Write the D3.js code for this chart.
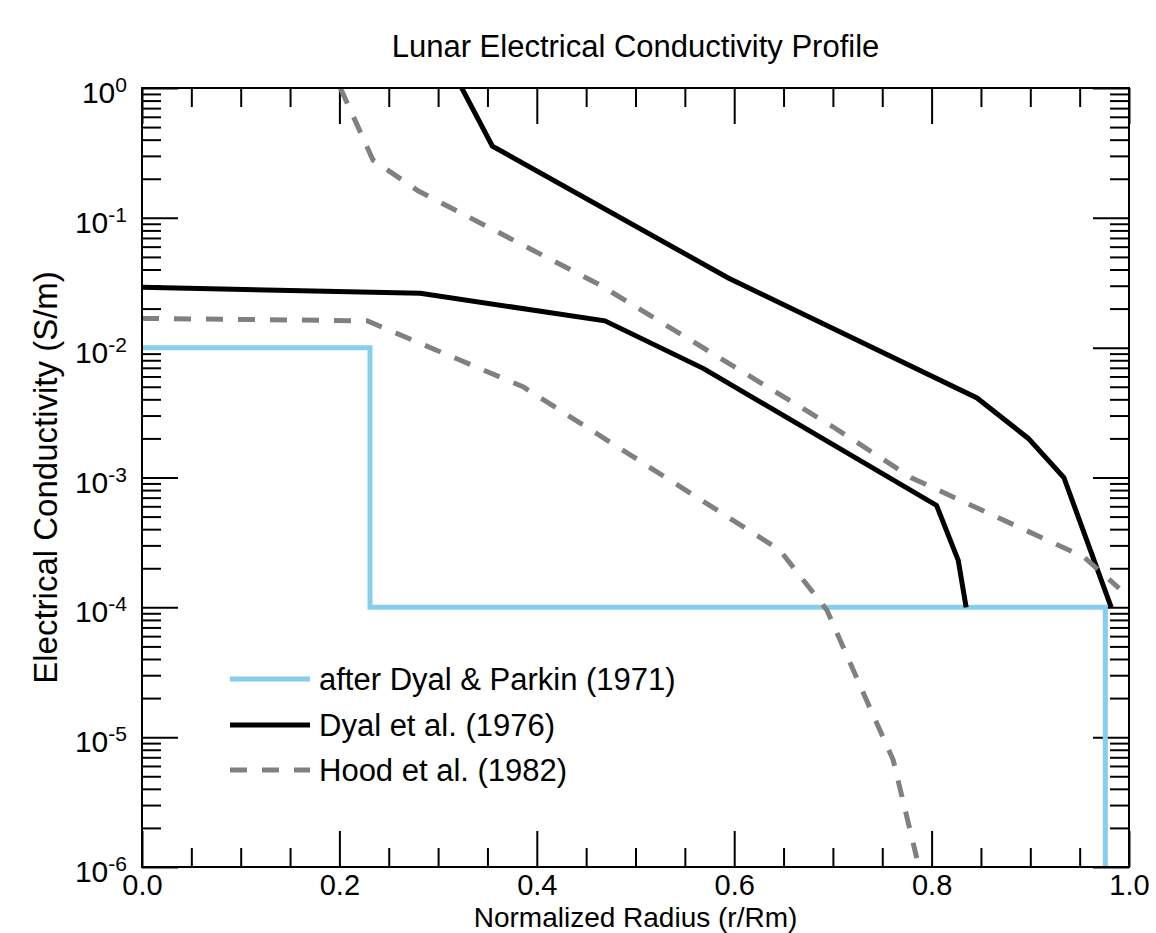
<!DOCTYPE html>
<html>
<head>
<meta charset="utf-8">
<script src="https://cdn.jsdelivr.net/npm/d3@7"></script>
<style>
  body { margin: 0; background: #fff; }
  svg { display: block; font-family: "Liberation Sans", Arial, Helvetica, sans-serif; }
</style>
</head>
<body>
<div id="chart"></div>
<script>
// after Dyal & Parkin (1971) - step profile
const dyalParkinR = [0.0, 0.231, 0.231, 0.976, 0.976];
const dyalParkinSigma = [1e-2, 1e-2, 1e-4, 1e-4, 1e-6];

// Dyal et al. (1976) - two bounding curves
const dyalUpperR = [0.324, 0.355, 0.594, 0.846, 0.898, 0.934, 0.982];
const dyalUpperSigma = [1.0, 0.357, 0.0344, 0.0041, 0.002, 0.001, 1.0e-4];
const dyalLowerR = [0.0, 0.282, 0.469, 0.569, 0.805, 0.827, 0.835];
const dyalLowerSigma = [0.0292, 0.0262, 0.0161, 0.0069, 6.1e-4, 2.3e-4, 1.0e-4];

// Hood et al. (1982) - two bounding curves
const hoodUpperR = [0.201, 0.234, 0.28, 0.35, 0.464, 0.70, 0.78, 0.954, 0.99];
const hoodUpperSigma = [1.0, 0.279, 0.161, 0.0855, 0.0304, 0.00246, 9.9e-4, 2.45e-4, 1.4e-4];
const hoodLowerR = [0.0, 0.228, 0.386, 0.646, 0.694, 0.734, 0.761, 0.785];
const hoodLowerSigma = [0.0168, 0.0161, 0.0050, 2.77e-4, 9.5e-5, 1.93e-5, 6.7e-6, 1.17e-6];

const xMajorTicks = [0, 0.2, 0.4, 0.6, 0.8, 1.0];
const yExponents = [0, -1, -2, -3, -4, -5, -6];
const legendLabels = ["after Dyal & Parkin (1971)", "Dyal et al. (1976)", "Hood et al. (1982)"];

const width = 1156, height = 933;
const margin = {left: 142, right: 27, top: 88, bottom: 66};
const plotW = width - margin.left - margin.right;
const plotH = height - margin.top - margin.bottom;

const svg = d3.select("#chart").append("svg").attr("width", width).attr("height", height);

const x = d3.scaleLinear().domain([0, 1]).range([margin.left, margin.left + plotW]);
const y = d3.scaleLog().domain([1e-6, 1]).range([margin.top + plotH, margin.top]);

const xMinor = d3.range(0, 1.0001, 0.05).filter(v => Math.abs(v * 5 - Math.round(v * 5)) > 1e-6);
const yMinor = [];
yExponents.slice(1).forEach(e => { for (let k = 2; k <= 9; k++) yMinor.push(k * Math.pow(10, e)); });

const majorLen = 36, minorLen = 19;

function tickStyle(g) {
    g.select(".domain").remove();
    g.selectAll(".tick line").attr("stroke", "#000").attr("stroke-width", 2);
}

// bottom axis
svg.append("g").attr("transform", `translate(0,${margin.top + plotH})`)
    .call(d3.axisBottom(x).tickValues(xMinor).tickSize(-minorLen).tickFormat(""))
    .call(tickStyle);
svg.append("g").attr("transform", `translate(0,${margin.top + plotH})`)
    .call(d3.axisBottom(x).tickValues(xMajorTicks).tickSize(-majorLen).tickPadding(7).tickFormat(d3.format(".1f")))
    .call(tickStyle)
    .selectAll("text").attr("font-size", 29).attr("fill", "#000").attr("font-family", null);

// top axis
svg.append("g").attr("transform", `translate(0,${margin.top})`)
    .call(d3.axisTop(x).tickValues(xMinor).tickSize(-minorLen).tickFormat(""))
    .call(tickStyle);
svg.append("g").attr("transform", `translate(0,${margin.top})`)
    .call(d3.axisTop(x).tickValues(xMajorTicks).tickSize(-majorLen).tickFormat(""))
    .call(tickStyle);

// left axis
svg.append("g").attr("transform", `translate(${margin.left},0)`)
    .call(d3.axisLeft(y).tickValues(yMinor).tickSize(-minorLen).tickFormat(""))
    .call(tickStyle);
svg.append("g").attr("transform", `translate(${margin.left},0)`)
    .call(d3.axisLeft(y).tickValues(yExponents.map(e => Math.pow(10, e))).tickSize(-majorLen).tickFormat(""))
    .call(tickStyle);

// right axis
svg.append("g").attr("transform", `translate(${margin.left + plotW},0)`)
    .call(d3.axisRight(y).tickValues(yMinor).tickSize(-minorLen).tickFormat(""))
    .call(tickStyle);
svg.append("g").attr("transform", `translate(${margin.left + plotW},0)`)
    .call(d3.axisRight(y).tickValues(yExponents.map(e => Math.pow(10, e))).tickSize(-majorLen).tickFormat(""))
    .call(tickStyle);

// y tick labels with superscript exponents
const yLab = svg.append("g").selectAll("text").data(yExponents).join("text")
    .attr("x", 127)
    .attr("y", d => y(Math.pow(10, d)) + 15)
    .attr("text-anchor", "end")
    .attr("font-size", 30)
    .text("10");
yLab.append("tspan").attr("font-size", 21).attr("dy", -11).text(d => d);

// clip
svg.append("clipPath").attr("id", "plotClip").append("rect")
    .attr("x", margin.left).attr("y", margin.top).attr("width", plotW).attr("height", plotH);

const line = d3.line().x(d => x(d[0])).y(d => y(d[1]));
const zip = (a, b) => a.map((v, i) => [v, b[i]]);

const series = [
    {pts: zip(dyalParkinR, dyalParkinSigma), color: "#87ceeb", dash: null},
    {pts: zip(dyalUpperR, dyalUpperSigma), color: "#000", dash: null},
    {pts: zip(dyalLowerR, dyalLowerSigma), color: "#000", dash: null},
    {pts: zip(hoodUpperR, hoodUpperSigma), color: "#808080", dash: "17,15"},
    {pts: zip(hoodLowerR, hoodLowerSigma), color: "#808080", dash: "17,15"}
];

svg.append("g").attr("clip-path", "url(#plotClip)")
    .selectAll("path").data(series).join("path")
    .attr("d", d => line(d.pts))
    .attr("fill", "none")
    .attr("stroke", d => d.color)
    .attr("stroke-width", 5)
    .attr("stroke-dasharray", d => d.dash)
    .attr("stroke-linejoin", "miter");

// frame
svg.append("rect").attr("x", margin.left).attr("y", margin.top)
    .attr("width", plotW).attr("height", plotH)
    .attr("fill", "none").attr("stroke", "#000").attr("stroke-width", 2);

// legend
const legendStyles = [
    {color: "#87ceeb", dash: null},
    {color: "#000", dash: null},
    {color: "#808080", dash: "17,15"}
];
const legendY = [679, 725, 770];
const lg = svg.append("g").selectAll("g").data(legendLabels).join("g")
    .attr("transform", (d, i) => `translate(0,${legendY[i]})`);
lg.append("line").attr("x1", 230).attr("x2", 310)
    .attr("stroke", (d, i) => legendStyles[i].color)
    .attr("stroke-width", 5)
    .attr("stroke-dasharray", (d, i) => legendStyles[i].dash);
lg.append("text").attr("x", 319).attr("y", 11).attr("font-size", 31).text(d => d);

// titles
svg.append("text").attr("x", margin.left + plotW / 2).attr("y", 57)
    .attr("text-anchor", "middle").attr("font-size", 31)
    .text("Lunar Electrical Conductivity Profile");
svg.append("text").attr("x", margin.left + plotW / 2).attr("y", 927)
    .attr("text-anchor", "middle").attr("font-size", 28)
    .text("Normalized Radius (r/Rm)");
svg.append("text").attr("transform", `translate(57,${margin.top + plotH / 2}) rotate(-90)`)
    .attr("text-anchor", "middle").attr("font-size", 33)
    .text("Electrical Conductivity (S/m)");
</script>
</body>
</html>
